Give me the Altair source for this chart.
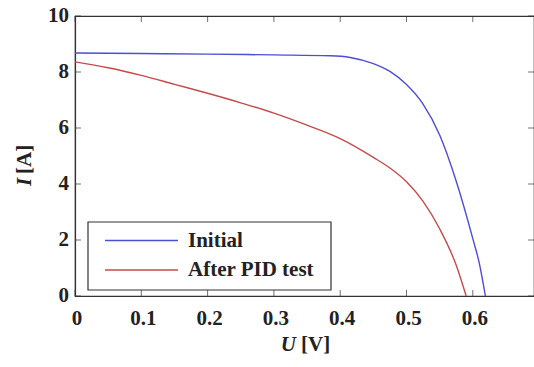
import altair as alt
import pandas as pd

initial_u = [0, 0.1, 0.2, 0.3, 0.385, 0.415, 0.45, 0.475, 0.5, 0.525, 0.55, 0.575, 0.6, 0.61, 0.619]
initial_i = [8.68, 8.66, 8.64, 8.61, 8.58, 8.52, 8.3, 8.02, 7.55, 6.85, 5.75, 4.1, 2.05, 1.15, 0]

after_u = [0, 0.05, 0.1, 0.15, 0.2, 0.25, 0.3, 0.35, 0.4, 0.45, 0.475, 0.5, 0.525, 0.55, 0.575, 0.59]
after_i = [8.36, 8.15, 7.88, 7.56, 7.24, 6.9, 6.53, 6.1, 5.62, 4.95, 4.57, 4.08, 3.38, 2.4, 1.1, 0]

series = ["Initial", "After PID test"]
colors = ["#4d4dd6", "#c64a4a"]
x_ticks = [0, 0.1, 0.2, 0.3, 0.4, 0.5, 0.6]
x_tick_labels = ["0", "0.1", "0.2", "0.3", "0.4", "0.5", "0.6"]
y_ticks = [0, 2, 4, 6, 8, 10]
y_tick_labels = ["0", "2", "4", "6", "8", "10"]

rows = []
for k, (us, is_) in enumerate([(initial_u, initial_i), (after_u, after_i)]):
    for j, (u, i) in enumerate(zip(us, is_)):
        rows.append({"U": u, "I": i, "series": series[k], "order": j})
df = pd.DataFrame(rows)

FONT = "Liberation Serif"
FS = 21
FW = "bold"
TXT = "#222222"
W, H = 459, 280

xscale = alt.Scale(domain=[0, 0.6923], nice=False, zero=False)
yscale = alt.Scale(domain=[0, 10], nice=False)

lines = alt.Chart(df).mark_line(strokeWidth=1.4, interpolate="monotone").encode(
    x=alt.X("U:Q", scale=xscale, axis=alt.Axis(values=x_ticks, title=None, labels=False,
                                                 ticks=False, grid=False,
                                                 domainColor="#333", domainWidth=1.2)),
    y=alt.Y("I:Q", scale=yscale, axis=alt.Axis(values=y_ticks, title=None, labels=False,
                                                 ticks=False, grid=False,
                                                 domainColor="#333", domainWidth=1.2)),
    color=alt.Color("series:N", scale=alt.Scale(domain=series, range=colors), legend=None),
    order="order:Q",
)

xt = pd.DataFrame({"U": x_ticks, "lab": x_tick_labels})
yt = pd.DataFrame({"I": y_ticks, "lab": y_tick_labels})
tick_bottom = alt.Chart(xt).mark_tick(orient="vertical", size=6, color="#333", thickness=1).encode(
    x=alt.X("U:Q", scale=xscale), y=alt.value(H - 3))
tick_top = alt.Chart(xt).mark_tick(orient="vertical", size=6, color="#333", thickness=1).encode(
    x=alt.X("U:Q", scale=xscale), y=alt.value(3))
tick_left = alt.Chart(yt).mark_tick(orient="horizontal", size=6, color="#333", thickness=1).encode(
    y=alt.Y("I:Q", scale=yscale), x=alt.value(3))
tick_right = alt.Chart(yt).mark_tick(orient="horizontal", size=6, color="#333", thickness=1).encode(
    y=alt.Y("I:Q", scale=yscale), x=alt.value(W - 3))
xlabels = alt.Chart(xt).mark_text(font=FONT, fontSize=FS, fontWeight=FW, color=TXT,
                                  align="center", baseline="middle", dx=2).encode(
    x=alt.X("U:Q", scale=xscale), y=alt.value(H + 23), text="lab:N")
ylabels = alt.Chart(yt).mark_text(font=FONT, fontSize=FS, fontWeight=FW, color=TXT,
                                  align="right", baseline="middle").encode(
    y=alt.Y("I:Q", scale=yscale), x=alt.value(-6), text="lab:N")

# legend (manual, MATLAB style)
legend_box = alt.Chart(pd.DataFrame({"a": [0]})).mark_rect(
    fill="white", stroke="#333", strokeWidth=1.2).encode(
    x=alt.value(13), x2=alt.value(256), y=alt.value(206), y2=alt.value(274))
leg_parts = [legend_box]
for r, name in enumerate(series):
    ycen = 224.5 + 29.5 * r
    sub = pd.DataFrame({"series": [name]})
    leg_parts.append(alt.Chart(sub).mark_rule(strokeWidth=1.4).encode(
        x=alt.value(30), x2=alt.value(103), y=alt.value(ycen),
        color=alt.Color("series:N", scale=alt.Scale(domain=series, range=colors), legend=None)))
    leg_parts.append(alt.Chart(sub).mark_text(
        font=FONT, fontSize=FS, fontWeight=FW, color=TXT, align="left", baseline="middle").encode(
        x=alt.value(113), y=alt.value(ycen), text="series:N"))

# axis titles with italic quantity symbols
t = pd.DataFrame({"a": [0]})
xt_U = alt.Chart(t).mark_text(text="U", font=FONT, fontSize=FS, fontWeight=FW, fontStyle="italic", color=TXT,
                              align="right", baseline="middle").encode(x=alt.value(221), y=alt.value(329))
xt_V = alt.Chart(t).mark_text(text="[V]", font=FONT, fontSize=FS, fontWeight=FW, color=TXT,
                              align="left", baseline="middle").encode(x=alt.value(226), y=alt.value(329))
yt_I = alt.Chart(t).mark_text(text="I", font=FONT, fontSize=FS, fontWeight=FW, fontStyle="italic", color=TXT,
                              angle=270, align="left", baseline="middle").encode(x=alt.value(-50), y=alt.value(170))
yt_A = alt.Chart(t).mark_text(text="[A]", font=FONT, fontSize=FS, fontWeight=FW, color=TXT,
                              angle=270, align="left", baseline="middle").encode(x=alt.value(-50), y=alt.value(158))

chart = alt.layer(tick_bottom, tick_top, tick_left, tick_right, xlabels, ylabels, lines, *leg_parts,
                  xt_U, xt_V, yt_I, yt_A).properties(
    width=W, height=H,
    autosize=alt.AutoSizeParams(type="none"),
    padding={"left": 75, "top": 16, "right": 0, "bottom": 71},
    background="white",
).configure_view(stroke="#333", strokeWidth=1.2)

chart.save("out.html", embed_options={"renderer": "svg", "actions": False})
